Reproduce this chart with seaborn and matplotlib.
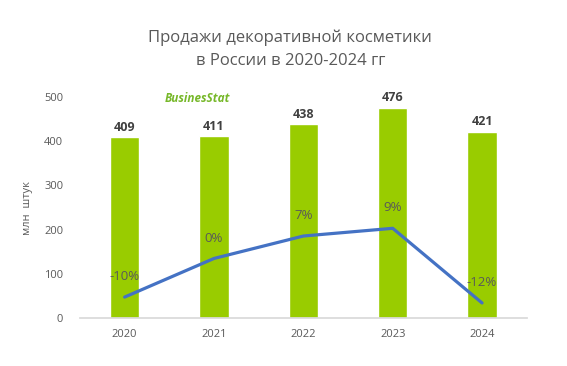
import matplotlib
matplotlib.use("Agg")
import matplotlib.pyplot as plt
import seaborn as sns
import pandas as pd

# data
years = ["2020", "2021", "2022", "2023", "2024"]
sales = [409, 411, 438, 476, 421]            # млн штук
growth = [-10, 0.5, 6.6, 8.7, -11.6]         # % к предыдущему году

sns.set_theme(style="white")
plt.rcParams["font.family"] = ["Open Sans", "DejaVu Sans"]

df = pd.DataFrame({"year": years, "sales": sales, "growth": growth})

fig = plt.figure(figsize=(5.67, 3.66), dpi=100)
ax = fig.add_axes([0.141, 0.131, 0.788, 0.604])

sns.barplot(data=df, x="year", y="sales", color="#99CC00", width=0.33,
            saturation=1, ax=ax)
ax.set_ylim(0, 500)
ax.set_xlim(-0.5, 4.5)
ax.set_yticks(range(0, 501, 100))
ax.set_xlabel("")
ax.set_ylabel("млн  штук", color="#595959", fontsize=8, labelpad=8)
ax.tick_params(axis="both", colors="#595959", labelsize=8, length=0)
ax.tick_params(axis="x", pad=8)
ax.tick_params(axis="y", pad=12)
for side in ["top", "right", "left"]:
    ax.spines[side].set_visible(False)
ax.spines["bottom"].set_color("#D9D9D9")

for i, v in enumerate(sales):
    ax.text(i, v + 8, str(v), ha="center", va="bottom", fontsize=9,
            fontweight="bold", color="#404040")

# growth line on a hidden secondary axis
ax2 = ax.twinx()
sns.lineplot(x=list(range(len(years))), y=growth, color="#4472C4",
             linewidth=2.3, ax=ax2)
ax2.set_ylim(-15.7, 44.4)
ax2.set_xlim(-0.5, 4.5)
ax2.axis("off")
for i, g in enumerate(growth):
    ax2.annotate(f"{g:.0f}%", (i, g), xytext=(0, 10), textcoords="offset points",
                 ha="center", va="bottom", fontsize=9.5, color="#595959")

fig.text(0.512, 0.866, "Продажи декоративной косметики\nв России в 2020-2024 гг",
         ha="center", va="center", fontsize=12, color="#595959",
         linespacing=1.6)

# logo
fig.text(0.29, 0.73, "BusinesStat", ha="left", va="center", fontsize=8.5,
         fontweight="bold", fontstyle="italic", color="#77B82A")

fig.savefig("out.png", dpi=100)
